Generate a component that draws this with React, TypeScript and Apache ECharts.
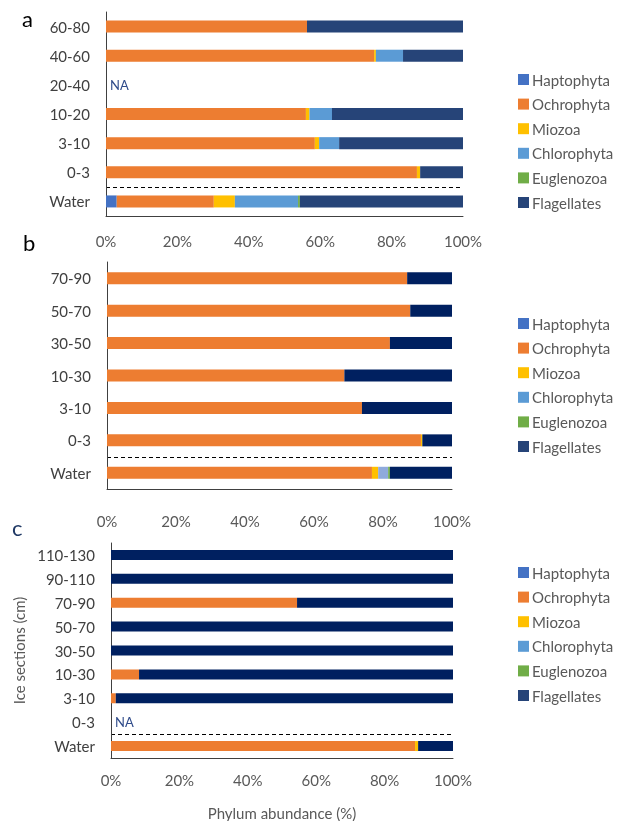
import React, { useEffect, useRef } from "react";
import * as echarts from "echarts";

const seriesNames = ["Haptophyta", "Ochrophyta", "Miozoa", "Chlorophyta", "Euglenozoa", "Flagellates"];
const colorsA = ["#4472C4", "#ED7D31", "#FFC000", "#5B9BD5", "#70AD47", "#264478"];
const colorsBC = ["#4472C4", "#ED7D31", "#FFC000", "#8FAADC", "#70AD47", "#002060"];
const xTicks = [0, 20, 40, 60, 80, 100];

// Panel a (bottom to top)
const catsA = ["Water", "0-3", "3-10", "10-20", "20-40", "40-60", "60-80"];
const hapA = [3, 0, 0, 0, null, 0, 0];
const ochA = [27.2, 87.1, 58.5, 56, null, 75.1, 56.3];
const mioA = [5.9, 0.9, 1.2, 1, null, 0.5, 0];
const chlA = [17.7, 0, 5.6, 6.3, null, 7.6, 0];
const eugA = [0.5, 0, 0, 0, null, 0, 0];
const flaA = [45.7, 12, 34.7, 36.7, null, 16.8, 43.7];

// Panel b
const catsB = ["Water", "0-3", "3-10", "10-30", "30-50", "50-70", "70-90"];
const hapB = [0, 0, 0, 0, 0, 0, 0];
const ochB = [76.8, 91.0, 73.9, 68.8, 82, 87.9, 87];
const mioB = [1.8, 0.4, 0, 0, 0, 0, 0];
const chlB = [2.9, 0, 0, 0, 0, 0, 0];
const eugB = [0.5, 0, 0, 0, 0, 0, 0];
const flaB = [18, 8.6, 26.1, 31.2, 18, 12.1, 13];

// Panel c
const catsC = ["Water", "0-3", "3-10", "10-30", "30-50", "50-70", "70-90", "90-110", "110-130"];
const hapC = [0, null, 0, 0, 0, 0, 0, 0, 0];
const ochC = [88.9, null, 1.4, 8.2, 0, 0, 54.4, 0, 0];
const mioC = [0.9, null, 0, 0, 0, 0, 0, 0, 0];
const chlC = [0, null, 0, 0, 0, 0, 0, 0, 0];
const eugC = [0, null, 0, 0, 0, 0, 0, 0, 0];
const flaC = [10.2, null, 98.6, 91.8, 100, 100, 45.6, 100, 100];

const FONT = "Lato";
const GRAY = "#595959";

export default function App() {
  const ref = useRef<HTMLDivElement>(null);
  useEffect(() => {
    document.body.style.margin = "0";
    const chart = echarts.init(ref.current!, null, { renderer: "svg" });

    const grids = [
      { left: 106, top: 12, width: 357, height: 204 },
      { left: 107, top: 262, width: 345, height: 227 },
      { left: 111, top: 543, width: 342, height: 223 },
    ];
    const labelMargins = [17, 24, 14];
    const barWidths = [12, 12, 10];
    const cats = [catsA, catsB, catsC];
    const panels = [
      [hapA, ochA, mioA, chlA, eugA, flaA],
      [hapB, ochB, mioB, chlB, eugB, flaB],
      [hapC, ochC, mioC, chlC, eugC, flaC],
    ];
    const palettes = [colorsA, colorsBC, colorsBC];

    const xAxes = grids.map((g, i) => ({
      type: "value",
      gridIndex: i,
      min: xTicks[0],
      max: xTicks[xTicks.length - 1],
      interval: xTicks[1] - xTicks[0],
      axisLine: { show: true, lineStyle: { color: "#404040", width: 1 } },
      axisTick: { show: false },
      splitLine: { show: false },
      axisLabel: {
        formatter: "{value}%",
        color: GRAY,
        fontFamily: FONT,
        fontSize: 15,
        margin: labelMargins[i],
      },
      ...(i === 2
        ? {
            name: "Phylum abundance (%)",
            nameLocation: "middle",
            nameGap: 47,
            nameTextStyle: { color: GRAY, fontFamily: FONT, fontSize: 15 },
          }
        : {}),
    }));
    const yAxes = grids.map((g, i) => ({
      type: "category",
      gridIndex: i,
      data: cats[i],
      axisLine: { show: true, lineStyle: { color: "#404040", width: 1 } },
      axisTick: { show: false },
      axisLabel: { color: "#404040", fontFamily: FONT, fontSize: 15, margin: 16 },
      ...(i === 2
        ? {
            name: "Ice sections (cm)",
            nameLocation: "middle",
            nameGap: 81,
            nameRotate: 90,
            nameTextStyle: { color: GRAY, fontFamily: FONT, fontSize: 15 },
          }
        : {}),
    }));

    const series: any[] = [];
    panels.forEach((vals, p) => {
      vals.forEach((arr, s) => {
        series.push({
          type: "bar",
          name: seriesNames[s],
          xAxisIndex: p,
          yAxisIndex: p,
          stack: "total" + p,
          barWidth: barWidths[p],
          data: arr,
          itemStyle: { color: palettes[p][s] },
        });
      });
    });

    const legendTops = [67, 311, 560];
    const legends = legendTops.map((t) => ({
      orient: "vertical",
      left: 513,
      top: t,
      itemWidth: 11,
      itemHeight: 11,
      itemGap: 9.6,
      icon: "rect",
      data: seriesNames,
      textStyle: { color: GRAY, fontFamily: FONT, fontSize: 15, lineHeight: 15, padding: [0, 0, 0, -2] },
      selectedMode: false,
    }));

    chart.setOption({
      animation: false,
      grid: grids.map((g) => ({ ...g, containLabel: false })),
      xAxis: xAxes,
      yAxis: yAxes,
      legend: legends,
      series,
    });

    // dashed separators and NA labels positioned through the axes
    const graphics: any[] = [];
    const naRows: [number, string][] = [
      [0, "20-40"],
      [2, "0-3"],
    ];
    for (let p = 0; p < 3; p++) {
      const yW = chart.convertToPixel({ gridIndex: p } as any, [0, "Water"])[1];
      const y0 = chart.convertToPixel({ gridIndex: p } as any, [0, "0-3"])[1];
      const x0 = chart.convertToPixel({ gridIndex: p } as any, [0, "Water"])[0];
      const x1 = chart.convertToPixel({ gridIndex: p } as any, [100, "Water"])[0];
      const ym = Math.round((yW + y0) / 2) + 0.5;
      graphics.push({
        type: "line",
        shape: { x1: x0, y1: ym, x2: x1, y2: ym },
        style: { stroke: "#000", lineWidth: 1, lineDash: [4, 3] },
      });
    }
    naRows.forEach(([p, c]) => {
      const pt = chart.convertToPixel({ gridIndex: p } as any, [0, c]);
      graphics.push({
        type: "text",
        x: pt[0] + 4,
        y: pt[1],
        style: {
          text: "NA",
          fill: "#2F4B8A",
          font: `13px ${FONT}`,
          verticalAlign: "middle",
        },
      });
    });
    const letters = [
      { t: "a", x: 22, y: 18, c: "#000" },
      { t: "b", x: 23, y: 242, c: "#000" },
      { t: "c", x: 12, y: 527, c: "#1F3864" },
    ];
    letters.forEach((l) => {
      graphics.push({
        type: "text",
        x: l.x,
        y: l.y,
        style: { text: l.t, fill: l.c, font: `22px ${FONT}`, verticalAlign: "middle" },
      });
    });
    chart.setOption({ graphic: graphics });

    return () => chart.dispose();
  }, []);
  return <div ref={ref} style={{ position: "fixed", left: 0, top: 0, width: 633, height: 821 }} />;
}
